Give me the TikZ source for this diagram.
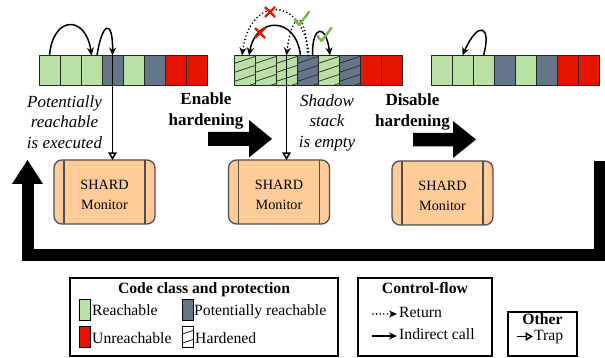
\documentclass[tikz,border=0pt]{standalone}
\usepackage{fontspec}
\setmainfont{Liberation Serif}
\usetikzlibrary{arrows.meta,calc}
\definecolor{reach}{HTML}{B9E0A5}
\definecolor{preach}{HTML}{647687}
\definecolor{unreach}{HTML}{E51400}
\definecolor{monfill}{HTML}{FFCC99}
\definecolor{monedge}{HTML}{4D4D4D}
\definecolor{okgreen}{HTML}{7AB648}
\definecolor{badred}{HTML}{E51400}

\begin{document}
\begin{tikzpicture}[x=1pt,y=-1pt,
  cell/.style={draw=black!85, line width=0.8pt, minimum width=21pt, minimum height=30pt, inner sep=0pt, outer sep=0pt},
  hatch/.style={path picture={\foreach \k in {0,...,5}\draw[line width=0.7pt] ([yshift=\k*9pt-14pt]path picture bounding box.south west) -- ++(21pt,7pt);}},
  plain/.style={},
  monitor/.style={draw=monedge, line width=1.3pt, fill=monfill, rounded corners=8pt, minimum width=101pt, minimum height=64pt, inner sep=0pt, outer sep=0pt},
  montext/.style={align=center, inner sep=0pt, font=\fontsize{14.2}{20}\selectfont},
  call/.style={line width=1.5pt, -{Stealth[length=8pt,width=7pt]}},
  ret/.style={line width=1.8pt, dash pattern=on 0pt off 3.6pt, line cap=round, -{Stealth[length=8pt,width=7pt]}},
  trap/.style={line width=1.5pt, -{Triangle[open,length=7.5pt,width=8.5pt]}},
  note/.style={align=center, inner sep=0pt, anchor=north, font=\fontsize{17}{20.5}\selectfont\itshape},
  action/.style={align=center, inner sep=0pt, anchor=north, font=\fontsize{17}{21}\selectfont\bfseries},
  legbox/.style={draw, line width=1.6pt},
  legtitle/.style={inner sep=0pt, anchor=base, font=\fontsize{15.7}{18}\selectfont\bfseries},
  legtext/.style={inner sep=0pt, anchor=base west, font=\fontsize{15.7}{18}\selectfont},
  swatch/.style={draw, line width=0.8pt, minimum width=11pt, minimum height=21pt, inner sep=0pt},
  okmark/.pic={\draw[okgreen, line width=2.4pt, line cap=round, line join=round] (-6,1) -- (-2,6) -- (8,-7);},
  xmark/.pic={\draw[badred, line width=2.2pt] (-5,-5) -- (5,5) (-5,5) -- (5,-5);},
]
\useasboundingbox (0,0) rectangle (605,358);

% code strips: before, during and after hardening
\foreach \col [count=\i] in {reach,reach,reach,preach,reach,preach,unreach,unreach}
  \node[cell, fill=\col] (s1c\i) at (39+21*\i-10.5, 70.5) {};
\foreach \col/\h [count=\i] in {reach/hatch,reach/hatch,reach/hatch,preach/hatch,reach/hatch,preach/hatch,unreach/plain,unreach/plain}
  \node[cell, fill=\col, \h] (s2c\i) at (234+21*\i-10.5, 70.5) {};
\foreach \col [count=\i] in {reach,reach,reach,preach,reach,preach,unreach,unreach}
  \node[cell, fill=\col] (s3c\i) at (431+21*\i-10.5, 70.5) {};

% monitors
\node[monitor] (box1) at (104.5,192) {};
\node[monitor] (box2) at (279,192) {};
\node[monitor] (box3) at (442.5,193) {};
\foreach \b in {box1,box2,box3} {
  \draw[monedge, line width=1.3pt] ([xshift=10pt]\b.north west) -- ([xshift=10pt]\b.south west);
  \draw[monedge, line width=1.3pt] ([xshift=-10pt]\b.north east) -- ([xshift=-10pt]\b.south east);
}
\node[montext] (m1) at ([yshift=-2.5pt]box1.center) {SHARD\\Monitor};
\node[montext] (m2) at ([yshift=-2.5pt]box2.center) {SHARD\\Monitor};
\node[montext] (m3) at ([yshift=-2.5pt]box3.center) {SHARD\\Monitor};

% annotations
\node[note] (n1) at (64.5,95.5) {Potentially\\reachable\\is executed};
\node[action] (a1) at (206,92.5) {Enable\\hardening};
\node[note] (n2) at (327,94.5) {Shadow\\stack\\is empty};
\node[action] (a2) at (412.5,93.5) {Disable\\hardening};

% phase arrows
\fill (208,132) -- (249,132) -- (249,120) -- (272,138.8) -- (249,157.5) -- (249,146) -- (208,146) -- cycle;
\fill (413,133) -- (453,133) -- (453,121) -- (476,139.5) -- (453,158) -- (453,146.5) -- (413,146.5) -- cycle;

% loop back to the start
\draw[line width=12pt] (599.5,161) -- (599.5,254.5) -- (27.5,254.5) -- (27.5,184);
\fill (12,184) -- (27.5,160) -- (43,184) -- cycle;

% strip 1 control flow
\draw[call] (s1c1.north) .. controls (53,15) and (86,15) .. (s1c3.north);
\draw[call] ([xshift=5.5pt]s1c3.north) .. controls (102,22) and (113,18) .. (s1c4.north);
\draw[trap] (s1c4.north) -- (s1c4.north |- box1.north);

% strip 2 control flow
\draw[ret] ([xshift=1.5pt]s2c4.north) .. controls (303,-5) and (250,-5) .. ([xshift=-2.5pt]s2c1.north);
\draw[call] ([xshift=-7pt]s2c4.north) .. controls (296,16) and (256,16) .. ([xshift=4.5pt]s2c1.north);
\draw[ret] (s2c4.north) .. controls (306,8) and (292,10) .. (s2c3.north);
\draw[call] ([xshift=5pt]s2c4.north) .. controls (312,24) and (326,24) .. ([xshift=1.5pt]s2c5.north);
\draw[trap] (s2c3.north) -- (s2c3.north |- box2.north);
\pic at (270,12) {xmark};
\pic at (260,33) {xmark};
\pic at (301,19) {okmark};
\pic at (323.5,35) {okmark};

% strip 3 control flow
\draw[call] (s3c3.north) .. controls (492,25) and (478,20) .. (s3c2.north);

% legend: code classes
\draw[legbox] (70,278) rectangle (338,356);
\node[legtitle] (lt1) at (204,293) {Code class and protection};
\node[swatch, fill=reach] (lg1) at (85,310) {};
\node[swatch, fill=preach] (lg2) at (188,310) {};
\node[swatch, fill=unreach] (lg3) at (85,337) {};
\node[swatch, fill=white, hatch] (lg4) at (188,336.5) {};
\node[legtext] (lx1) at (92,315) {Reachable};
\node[legtext] (lx2) at (194,315) {Potentially reachable};
\node[legtext] (lx3) at (92,343) {Unreachable};
\node[legtext] (lx4) at (195,343) {Hardened};

% legend: control flow
\draw[legbox] (358,278) rectangle (492,356);
\node[legtitle] (lt2) at (425,293) {Control-flow};
\node[legtext] (lx5) at (399,317) {Return};
\node[legtext] (lx6) at (399,339) {Indirect call};
\coordinate (r0) at (373,314);
\coordinate (i0) at (372,336);
\draw[ret] (r0) -- ($(r0 -| lx5.west)+(-2,0)$);
\draw[call] (i0) -- ($(i0 -| lx6.west)+(-2,0)$);

% legend: other
\draw[legbox] (508,312) rectangle (577,356);
\node[legtitle] (lt3) at (542.5,324) {Other};
\node[legtext] (lx7) at (534,340) {Trap};
\coordinate (t0) at (517,336.5);
\draw[trap] (t0) -- ($(t0 -| lx7.west)+(-1,0)$);
\end{tikzpicture}
\end{document}
